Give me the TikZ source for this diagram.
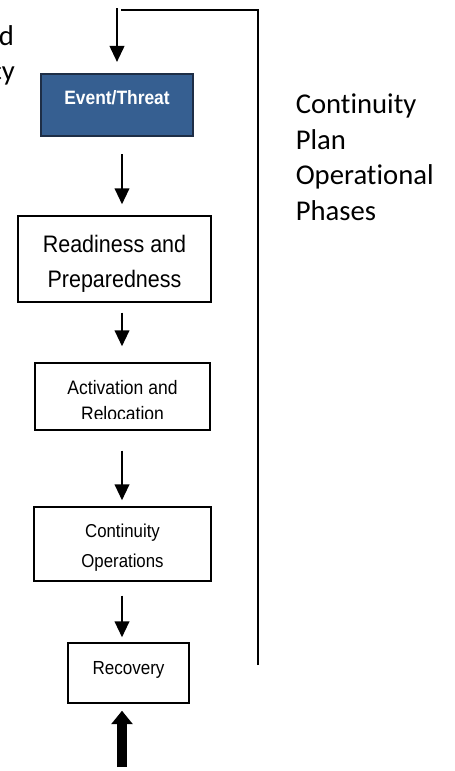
\documentclass[tikz,border=0pt]{standalone}
\usepackage{fontspec}
\setmainfont{Liberation Sans}
\newfontfamily\boxfont[FakeStretch=0.9]{Liberation Sans}
\newfontfamily\sidefont[Ligatures=NoCommon]{Carlito}
\usepackage{xcolor}
\usepackage{tikz}
\usetikzlibrary{arrows.meta,positioning,calc}
\definecolor{evblue}{RGB}{54,95,145}
\definecolor{evedge}{RGB}{30,46,70}
\tikzset{
  box/.style={draw, line width=1.1pt, align=center, inner sep=0pt},
  line/.style={-{Triangle[width=11pt,length=12pt]}, line width=1.5pt},
  bigline/.style={-{Triangle[width=15.5pt,length=10pt]}, line width=7pt},
  loopline/.style={line width=1pt},
  side/.style={font=\sidefont\fontsize{21.5}{26.6}\selectfont, align=left, inner sep=0pt}
}

\begin{document}
\begin{tikzpicture}[x=0.75pt, y=-0.75pt]
  \useasboundingbox (0,0) rectangle (454,771);
  % cut-off words at the left edge
  \node[side, anchor=base east] (fa) at (14.2,45) {d};
  \node[side, anchor=base east] (fb) at (15.2,80.5) {cy};
  % phases
  \node[box, fill=evblue, draw=evedge, line width=1.6pt, text=white, minimum width=114pt, minimum height=46.5pt,
        font=\boxfont\bfseries\fontsize{14.5}{17}\selectfont, text depth=11.25pt] (ev) at (117,105) {Event/Threat};
  \node[box, minimum width=144.75pt, minimum height=64.5pt, font=\boxfont\fontsize{17.9}{26.25}\selectfont]
        (rd) at (114.5,259) {\rule{0pt}{19.5pt}Readiness and\\Preparedness};
  \node[box, minimum width=131.25pt, minimum height=50.25pt, font=\boxfont\fontsize{14.6}{20}\selectfont]
        (ac) at (122.5,396.5) {\rule{0pt}{16.5pt}Activation and\\Relocation};
  \fill[white] ($(ac.south west)+(1.5,-1.5)$) rectangle ($(ac.south east)+(-1.5,-11.5)$);
  \node[box, minimum width=132.75pt, minimum height=55.5pt, font=\boxfont\fontsize{14}{22.5}\selectfont]
        (co) at (122.5,544) {\rule{0pt}{16pt}Continuity\\Operations};
  \node[box, minimum width=90.75pt, minimum height=45pt, font=\boxfont\fontsize{14.2}{17}\selectfont,
        text depth=6.8pt] (rc) at (128.5,673) {Recovery};
  % side text
  \node[side, anchor=north west] (title) at (295.5,94) {Continuity\\Plan\\Operational\\Phases};
  % connectors
  \coordinate (lp) at (258,665);
  \coordinate (lq) at (121,10);
  \coordinate (in) at (117,8);
  \coordinate (ax) at (122,0);
  \coordinate (bt) at (122,767);
  \draw[loopline] (lp) |- (lq);
  \draw[line, shorten >=8.25pt] (in) -- (in |- ev.north);
  \draw[line, shorten <=12.75pt, shorten >=8.25pt] (ev.south -| ax) -- (rd.north -| ax);
  \draw[line, shorten <=7.5pt, shorten >=12pt] (rd.south -| ax) -- (ac.north -| ax);
  \draw[line, shorten <=15pt, shorten >=4.5pt] (ac.south -| ax) -- (co.north -| ax);
  \draw[line, shorten <=10.5pt, shorten >=3.75pt] (co.south -| ax) -- (rc.north -| ax);
  \draw[bigline, shorten >=5.25pt] (bt) -- (bt |- rc.south);
\end{tikzpicture}
\end{document}
